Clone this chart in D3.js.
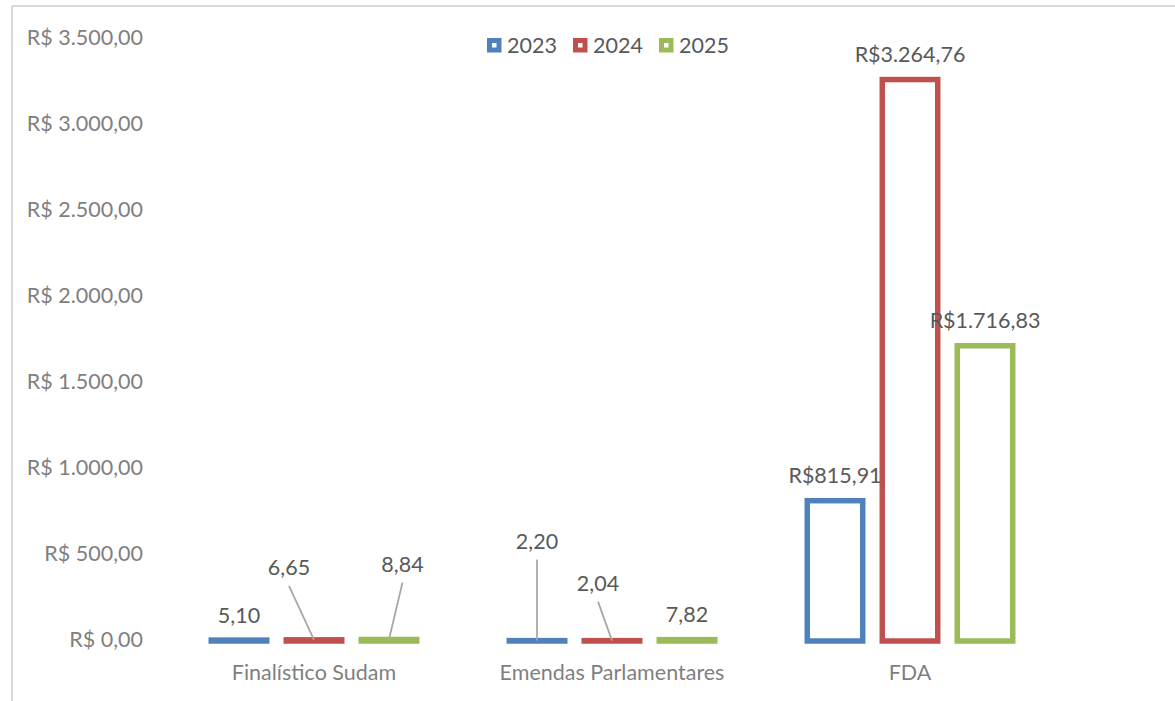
<!DOCTYPE html>
<html>
<head>
<meta charset="utf-8">
<script src="https://cdn.jsdelivr.net/npm/d3@7/dist/d3.min.js"></script>
<style>
  html, body { margin: 0; padding: 0; background: #fff; }
  svg { display: block; }
  text { font-family: Lato, "Open Sans", sans-serif; }
</style>
</head>
<body>
<svg id="chart" width="1175" height="701"></svg>
<script>
// ---- data ----
const categories = ["Finalístico Sudam", "Emendas Parlamentares", "FDA"];
const years = ["2023", "2024", "2025"];
const values2023 = [5.10, 2.20, 815.91];
const values2024 = [6.65, 2.04, 3264.76];
const values2025 = [8.84, 7.82, 1716.83];
const yTicks = [0, 500, 1000, 1500, 2000, 2500, 3000, 3500];
const seriesColors = ["#4f81bd", "#c0504d", "#9bbb59"];

// manually moved data labels (offset from default label spot) -> drawn with a leader line
const movedLabels = [
  { cat: "Finalístico Sudam", year: "2024", dx: -25, dy: -47 },
  { cat: "Finalístico Sudam", year: "2025", dx: 13.5, dy: -50 },
  { cat: "Emendas Parlamentares", year: "2023", dx: 0, dy: -74 },
  { cat: "Emendas Parlamentares", year: "2024", dx: -14, dy: -32 }
];

const seriesValues = [values2023, values2024, values2025];
const rows = [];
categories.forEach((c, i) => years.forEach((y, j) => rows.push({ cat: c, year: y, value: seriesValues[j][i], color: seriesColors[j] })));

const svg = d3.select("#chart");
const FS = "21.5px";

// chart frame (partially visible)
svg.append("line").attr("x1", 12).attr("x2", 1175).attr("y1", 6).attr("y2", 6)
  .attr("stroke", "#d9d9d9").attr("stroke-width", 2);
svg.append("line").attr("x1", 12).attr("x2", 12).attr("y1", 6).attr("y2", 701)
  .attr("stroke", "#d9d9d9").attr("stroke-width", 2);

const y = d3.scaleLinear().domain([0, 3500]).range([641, 39.1]);
const x0 = d3.scaleBand().domain(categories).range([165, 1059]).paddingInner(0).paddingOuter(0);
const x1 = d3.scaleBand().domain(years).range([36.5, 261.5]).paddingInner(0.187).paddingOuter(0.0935);

const locale = d3.formatLocale({ decimal: ",", thousands: ".", grouping: [3], currency: ["R$ ", ""] });
const tickFmt = locale.format("$,.2f");
const numFmt = locale.format(",.2f");
const labelText = v => v >= 100 ? "R$" + numFmt(v) : numFmt(v);

// y axis (labels only)
const yAxis = d3.axisLeft(y).tickValues(yTicks).tickFormat(tickFmt).tickSize(0).tickPadding(0);
const gy = svg.append("g").attr("transform", "translate(143,-1.5)").call(yAxis);
gy.select(".domain").remove();
gy.selectAll("text").attr("fill", "#7f7f7f").style("font-size", FS).style("font-family", "Lato, sans-serif");

// x axis (labels only)
const xAxis = d3.axisBottom(x0).tickSize(0).tickPadding(0);
const gx = svg.append("g").attr("transform", "translate(0,665)").call(xAxis);
gx.select(".domain").remove();
gx.selectAll("text").attr("fill", "#7f7f7f").style("font-size", FS).style("font-family", "Lato, sans-serif");

const sw = 5.5;
const barX = d => x0(d.cat) + x1(d.year);

// bars (outlined)
svg.append("g").selectAll("rect").data(rows).join("rect")
  .attr("x", d => barX(d) + sw / 2)
  .attr("width", x1.bandwidth() - sw)
  .attr("y", d => y(d.value))
  .attr("height", d => y(0) - y(d.value))
  .attr("fill", "none")
  .attr("stroke", d => d.color)
  .attr("stroke-width", sw);

// data labels
const lab = svg.append("g");
rows.forEach(d => {
  const cx = barX(d) + x1.bandwidth() / 2;
  const top = y(d.value);
  const mv = movedLabels.find(m => m.cat === d.cat && m.year === d.year);
  let lx = cx, ly = top - 25;
  if (mv) {
    lx += mv.dx; ly += mv.dy;
    lab.append("line").attr("x1", lx).attr("y1", ly + 18).attr("x2", cx).attr("y2", top)
      .attr("stroke", "#a6a6a6").attr("stroke-width", 1.75);
  }
  lab.append("text").attr("x", lx).attr("y", ly).attr("dy", "0.35em")
    .attr("text-anchor", "middle").attr("fill", "#595959")
    .style("font-size", FS).text(labelText(d.value));
});

// legend
const legendX = [487, 573, 659];
const lg = svg.append("g");
years.forEach((yr, i) => {
  const g = lg.append("g").attr("transform", `translate(${legendX[i]},38)`);
  g.append("rect").attr("x", 2.5).attr("y", 2.5).attr("width", 9.5).attr("height", 9.5)
    .attr("fill", "#fff").attr("stroke", seriesColors[i]).attr("stroke-width", 5);
  g.append("text").attr("x", 20).attr("y", 7.5).attr("dy", "0.35em")
    .attr("fill", "#595959").style("font-size", FS).text(yr);
});
</script>
</body>
</html>
